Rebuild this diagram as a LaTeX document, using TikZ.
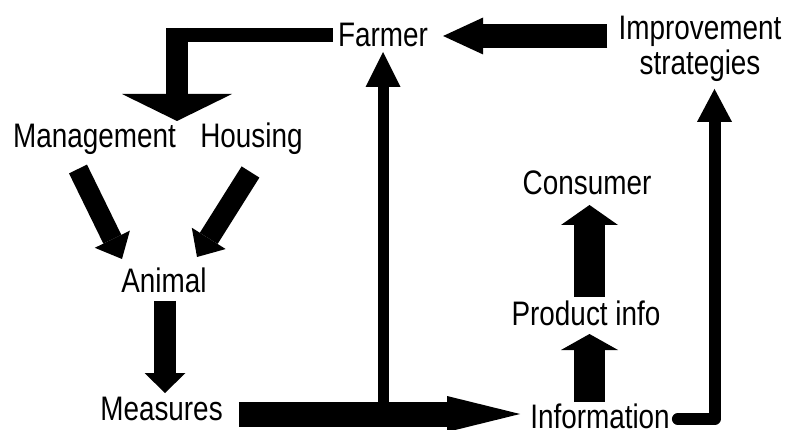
\documentclass[tikz,border=0pt]{standalone}
\usepackage{fontspec}
\setmainfont{Liberation Sans}[FakeStretch=0.82]
\usetikzlibrary{arrows.meta,calc}
\begin{document}
\begin{tikzpicture}[x=1pt,y=-1pt,
  lbl/.style={inner sep=0pt, font=\fontsize{34}{35}\selectfont},
  blk/.style n args={3}{line width=#1pt, -{Triangle[length=#2pt,width=#3pt,line width=0pt]}},
  thinline/.style={line width=#1pt, line cap=round, line join=round, -{Triangle[length=33pt,width=35pt,line width=0pt]}}
]
\useasboundingbox (0,0) rectangle (787,430);
\fill[white] (0,0) rectangle (787,430);

\node[lbl,anchor=base] (farmer) at (383,47) {Farmer};
\node[lbl,align=center] (improve) at (700,49) {Improvement\\strategies};
\node[lbl,anchor=base] (manage) at (94.5,148) {Management};
\node[lbl,anchor=base] (housing) at (251.5,148) {Housing};
\node[lbl,anchor=base] (animal) at (164,293) {Animal};
\node[lbl,anchor=base] (measures) at (161.5,420) {Measures};
\node[lbl,anchor=base] (info) at (600,428) {Information};
\node[lbl,anchor=base] (prodinfo) at (586,326) {Product info};
\node[lbl,anchor=base] (consumer) at (587,195) {Consumer};

\coordinate (mh) at (177,121);
\coordinate (elb) at (177,35);
\coordinate (bar) at ($(measures.base east)+(16,-6)$);

% Improvement strategies -> Farmer
\draw[blk={24}{40}{37}] ($(improve.west |- farmer.base)+(-11,-11)$) -- ($(farmer.base east)+(15,-11)$);
% Farmer -> Management / Housing (elbow)
\draw[line width=14pt] ($(farmer.base west)+(-5,-12)$) -- ($(elb)+(-11,0)$);
\draw[blk={22}{27}{110}] ($(elb)+(0,-7)$) -- (mh);
% Management -> Animal, Housing -> Animal
\draw[blk={20}{22}{39}] ($(manage.base)+(-16.5,21)$) -- ($(animal.base)+(-42,-34)$);
\draw[blk={21}{22}{40}] ($(housing.base)+(-1,24)$) -- ($(animal.base)+(33,-36)$);
% Animal -> Measures
\draw[blk={22}{20}{41}] ($(animal.base)+(1,8)$) -- ($(measures.base)+(3.5,-27)$);
% Measures -> Information, branch up to Farmer
\draw[blk={11}{35}{35}] (farmer.base |- bar) -- ($(farmer.base)+(0,5)$);
\draw[blk={25}{73}{36}] (bar) -- ($(info.base west)+(-10,-14)$);
% Information -> Improvement strategies
\draw[thinline=12] ($(info.base east)+(8,-9)$) -| ($(improve.south)+(14.5,7)$);
% Information -> Product info -> Consumer
\draw[blk={31}{16}{57}] ($(info.base)+(-10.5,-26)$) -- ($(prodinfo.base)+(3.5,8)$);
\draw[blk={31}{20}{57}] ($(prodinfo.base)+(3.5,-29)$) -- ($(consumer.base)+(2.5,10)$);
\end{tikzpicture}
\end{document}
